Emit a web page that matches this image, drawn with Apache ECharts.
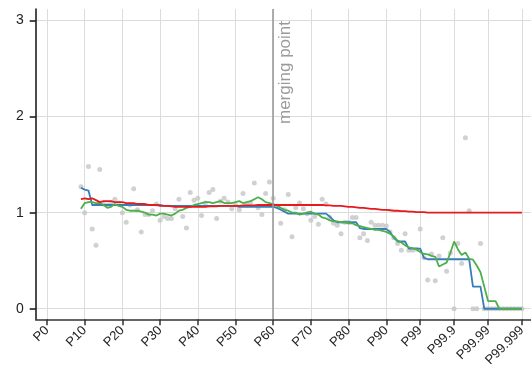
<!DOCTYPE html>
<html>
<head>
<meta charset="utf-8">
<script src="https://cdn.jsdelivr.net/npm/echarts@6/dist/echarts.min.js"></script>
<style>
html, body { margin: 0; padding: 0; background: #fff; }
#chart { width: 531px; height: 371px; }
</style>
</head>
<body>
<div id="chart"></div>
<script>
// x positions: P0..P90 linear, each extra "9" in the tail adds 9 units
const tickPos = [0, 10, 20, 30, 40, 50, 60, 70, 80, 90, 99, 108, 117, 126]
const tickNames = ['P0', 'P10', 'P20', 'P30', 'P40', 'P50', 'P60', 'P70', 'P80', 'P90', 'P99', 'P99.9', 'P99.99', 'P99.999']
const yTicks = [0, 1, 2, 3]
const mergePos = 60
const firstPos = 9 // first sample sits on P9

const samples = [
    1.27, 1.00, 1.48, 0.83, 0.66, 1.45, 1.09, 1.08, 1.10, 1.14,
    1.10, 1.00, 0.90, 1.08, 1.25, 1.03, 0.80, 0.98, 0.98, 1.02,
    1.09, 0.92, 0.96, 0.94, 0.94, 1.04, 1.14, 0.96, 0.84, 1.21,
    1.13, 1.15, 0.97, 1.10, 1.21, 1.24, 0.94, 1.12, 1.15, 1.11,
    1.04, 1.08, 1.03, 1.20, 1.08, 1.10, 1.31, 1.05, 0.98, 1.20,
    1.32, 1.15, 1.07, 0.89, 1.03, 1.19, 0.75, 1.05, 1.10, 1.04,
    0.99, 0.92, 0.96, 0.88, 1.14, 1.09, 0.95, 0.89, 0.87, 0.78,
    0.90, 0.90, 0.95, 0.95, 0.74, 0.78, 0.71, 0.90, 0.87, 0.87,
    0.87, 0.86, 0.80, 0.74, 0.68, 0.61, 0.78, 0.61, 0.61, 0.62,
    0.83, 0.53, 0.30, 0.57, 0.29, 0.55, 0.74, 0.39, 0.58, 0.00,
    0.68, 0.47, 1.78, 1.02, 0.00, 0.00, 0.68, 0.00, 0.00, 0.00,
    0, 0, 0, 0, 0, 0, 0, 0
]

const blueLine = [
    1.26, 1.24, 1.23, 1.08, 1.08, 1.08, 1.08, 1.08, 1.08, 1.08,
    1.08, 1.08, 1.08, 1.08, 1.08, 1.08, 1.08, 1.08, 1.08, 1.08,
    1.08, 1.08, 1.07, 1.07, 1.07, 1.07, 1.07, 1.07, 1.07, 1.07,
    1.07, 1.07, 1.07, 1.07, 1.07, 1.07, 1.07, 1.07, 1.07, 1.07,
    1.07, 1.07, 1.06, 1.06, 1.06, 1.06, 1.06, 1.06, 1.06, 1.06,
    1.06, 1.06, 1.05, 1.03, 1.01, 0.99, 0.99, 0.99, 0.99, 0.99,
    0.99, 0.99, 0.99, 0.99, 0.99, 0.99, 0.96, 0.92, 0.90, 0.90,
    0.90, 0.90, 0.90, 0.90, 0.84, 0.83, 0.83, 0.83, 0.83, 0.83,
    0.83, 0.83, 0.80, 0.74, 0.70, 0.70, 0.70, 0.625, 0.625, 0.625,
    0.625, 0.53, 0.515, 0.515, 0.515, 0.515, 0.515, 0.515, 0.515, 0.515,
    0.515, 0.515, 0.515, 0.515, 0.23, 0.23, 0.23, 0, 0, 0,
    0, 0, 0, 0, 0, 0, 0, 0
]

const greenLine = [
    1.04, 1.10, 1.11, 1.11, 1.10, 1.10, 1.08, 1.05, 1.06, 1.09,
    1.07, 1.06, 1.03, 1.02, 1.02, 1.02, 1.01, 1.00, 0.98, 0.98,
    0.97, 0.99, 0.99, 0.98, 0.97, 0.99, 1.02, 1.03, 1.05, 1.06,
    1.08, 1.09, 1.10, 1.11, 1.11, 1.10, 1.11, 1.12, 1.10, 1.10,
    1.10, 1.11, 1.12, 1.10, 1.11, 1.12, 1.14, 1.16, 1.14, 1.11,
    1.10, 1.09, 1.075, 1.05, 1.03, 1.02, 1.00, 1.00, 0.98, 0.99,
    1.00, 1.01, 0.99, 0.98, 0.95, 0.94, 0.92, 0.91, 0.91, 0.90,
    0.90, 0.89, 0.89, 0.87, 0.86, 0.85, 0.84, 0.83, 0.82, 0.82,
    0.81, 0.80, 0.78, 0.75, 0.71, 0.69, 0.66, 0.64, 0.63, 0.62,
    0.59, 0.57, 0.565, 0.55, 0.54, 0.44, 0.46, 0.48, 0.58, 0.70,
    0.62, 0.56, 0.585, 0.52, 0.51, 0.45, 0.38, 0.23, 0.08, 0.08,
    0.08, 0, 0, 0, 0, 0, 0, 0
]

const redLine = [
    1.14, 1.15, 1.14, 1.15, 1.13, 1.11, 1.12, 1.12, 1.12, 1.11,
    1.11, 1.11, 1.10, 1.10, 1.10, 1.09, 1.09, 1.09, 1.08, 1.08,
    1.08, 1.07, 1.07, 1.07, 1.065, 1.06, 1.06, 1.06, 1.06, 1.06,
    1.06, 1.06, 1.06, 1.06, 1.065, 1.065, 1.065, 1.07, 1.07, 1.07,
    1.07, 1.07, 1.07, 1.075, 1.075, 1.075, 1.075, 1.08, 1.08, 1.08,
    1.08, 1.08, 1.08, 1.08, 1.08, 1.08, 1.08, 1.08, 1.08, 1.08,
    1.08, 1.08, 1.08, 1.08, 1.08, 1.075, 1.075, 1.07, 1.07, 1.07,
    1.065, 1.06, 1.06, 1.055, 1.05, 1.05, 1.045, 1.04, 1.04, 1.035,
    1.03, 1.03, 1.025, 1.02, 1.02, 1.015, 1.015, 1.01, 1.01, 1.005,
    1.005, 1.005, 1.0, 1.0, 1.0, 1.0, 1.0, 1.0, 1.0, 1.0,
    1.0, 1.0, 1.0, 1.0, 1.0, 1.0, 1.0, 1.0, 1.0, 1.0,
    1.0, 1.0, 1.0, 1.0, 1.0, 1.0, 1.0, 1.0
]

const font = 'Liberation Sans'
const toPairs = arr => arr.map((v, i) => [firstPos + i, v])

const lineSeries = function (data, color) {
    return {
        type: 'line',
        data: toPairs(data),
        showSymbol: false,
        symbol: 'none',
        lineStyle: { color: color, width: 1.8 },
        z: 3
    }
}

const myChart = echarts.init(document.getElementById('chart'), null, { renderer: 'canvas' })
myChart.setOption({
    animation: false,
    grid: {
        left: 35.7,
        right: 0,
        top: 9,
        bottom: 51.7,
        containLabel: false,
        outerBoundsMode: 'none'
    },
    xAxis: {
        type: 'value',
        min: -3,
        max: 128.4,
        axisLine: { show: true, onZero: false, lineStyle: { color: '#333', width: 1.5 } },
        axisTick: { show: true, customValues: tickPos, length: 6, lineStyle: { color: '#333', width: 1.5 } },
        axisLabel: {
            customValues: tickPos,
            rotate: 45,
            margin: 9,
            fontSize: 13,
            fontFamily: font,
            color: '#222',
            formatter: function (v) {
                const i = tickPos.indexOf(v)
                return i < 0 ? '' : tickNames[i]
            }
        },
        splitLine: { show: true, lineStyle: { color: '#dcdcdc', width: 1 } }
    },
    yAxis: {
        type: 'value',
        min: -0.11,
        max: 3.12,
        axisLine: { show: true, onZero: false, lineStyle: { color: '#111', width: 1.5 } },
        axisTick: { show: true, customValues: yTicks, length: 6, lineStyle: { color: '#111', width: 1.5 } },
        axisLabel: {
            customValues: yTicks,
            margin: 12,
            fontSize: 14,
            fontFamily: font,
            color: '#222'
        },
        splitLine: { show: true, lineStyle: { color: '#dcdcdc', width: 1 } }
    },
    series: [
        {
            type: 'scatter',
            data: toPairs(samples),
            symbolSize: 5,
            itemStyle: { color: '#c6c6c6' },
            z: 2,
            markLine: {
                silent: true,
                symbol: 'none',
                lineStyle: { color: '#9a9a9a', width: 1.6, type: 'solid' },
                label: {
                    show: true,
                    formatter: 'merging point',
                    position: 'insideEndBottom',
                    distance: [12, 4],
                    fontSize: 17,
                    fontFamily: font,
                    color: '#9a9a9a'
                },
                data: [{ xAxis: mergePos }]
            }
        },
        lineSeries(blueLine, '#377eb8'),
        lineSeries(greenLine, '#4daf4a'),
        lineSeries(redLine, '#e41a1c')
    ]
})
</script>
</body>
</html>
